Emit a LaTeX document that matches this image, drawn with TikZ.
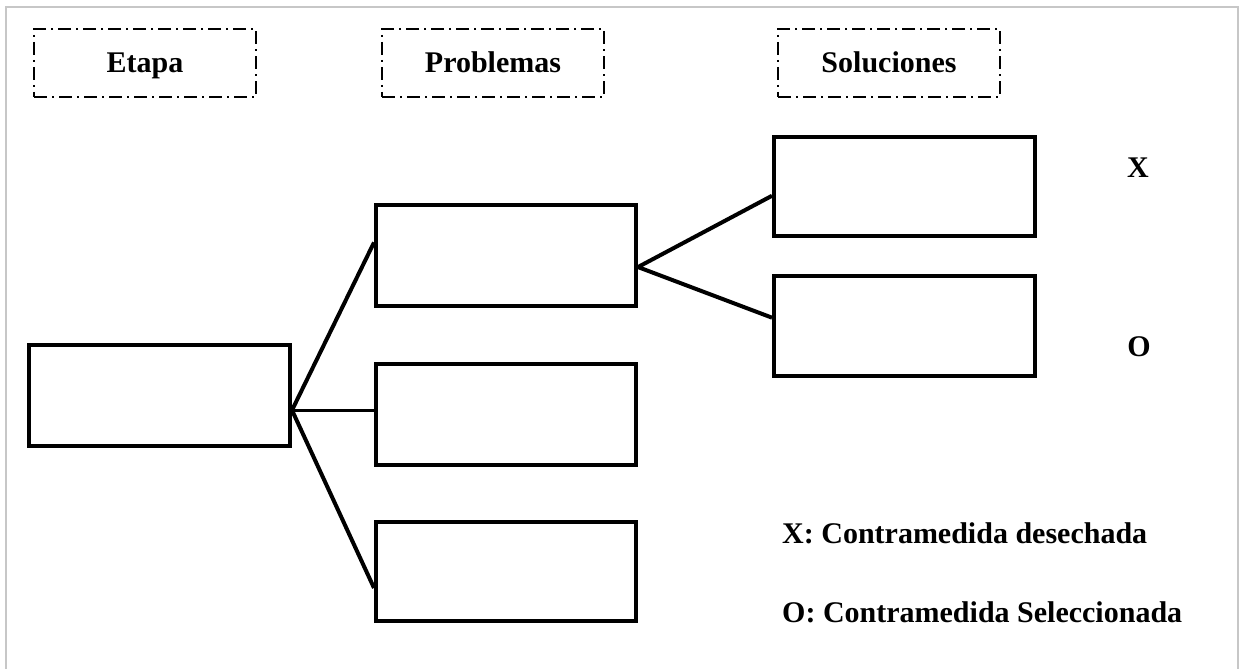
\documentclass[tikz,border=0pt]{standalone}
\usepackage{fontspec}
\setmainfont{Liberation Serif}
\usetikzlibrary{calc}
\begin{document}
\begin{tikzpicture}[x=1pt,y=-1pt,
  stagebox/.style={draw,line width=4pt,rectangle,inner sep=0pt},
  headbox/.style={draw,line width=1.8pt,rectangle,inner sep=0pt,
    minimum width=222pt,minimum height=68pt,
    text height=22pt,text depth=2pt,
    dash pattern=on 13pt off 5pt on 2pt off 5pt,
    font=\fontsize{30}{32}\selectfont\bfseries},
  link/.style={line width=4pt},
  thinlink/.style={line width=2.8pt},
  mark text/.style={font=\fontsize{30}{32}\selectfont\bfseries},
  frame/.style={draw=black!22,line width=2pt}]
  \useasboundingbox (0,0) rectangle (1243,669);
  % outer frame, open at the bottom
  \draw[frame] (6,669) -- (6,7) -- (1238,7) -- (1238,669);

  % column headings
  \node[headbox] (hEtapa) at (145,63) {Etapa};
  \node[headbox] (hProb) at (493,63) {Problemas};
  \node[headbox] (hSol) at (889,63) {Soluciones};

  % stage
  \node[stagebox,minimum width=261pt,minimum height=101pt] (etapa) at (159.5,395.5) {};
  % problems
  \node[stagebox,minimum width=260pt,minimum height=101pt] (p1) at (506,255.5) {};
  \node[stagebox,minimum width=260pt,minimum height=101pt] (p2) at (506,414.5) {};
  \node[stagebox,minimum width=260pt,minimum height=99pt] (p3) at (506,571.5) {};
  % solutions
  \node[stagebox,minimum width=261pt,minimum height=99pt] (s1) at (904.5,186.5) {};
  \node[stagebox,minimum width=261pt,minimum height=100pt] (s2) at (904.5,326) {};

  % attachment points on box sides
  \coordinate (eOut) at ($(etapa.north east)!0.64!(etapa.south east)$);
  \coordinate (p1In) at ($(p1.north west)!0.376!(p1.south west)$);
  \coordinate (p3In) at ($(p3.north west)!0.66!(p3.south west)$);
  \coordinate (p1Out) at ($(p1.north east)!0.61!(p1.south east)$);
  \coordinate (s1In) at ($(s1.north west)!0.59!(s1.south west)$);
  \coordinate (s2In) at ($(s2.north west)!0.42!(s2.south west)$);

  % connectors
  \draw[link] (eOut) -- (p1In);
  \draw[thinlink] (eOut) -- (eOut -| p2.west);
  \draw[link] (eOut) -- (p3In);
  \draw[link] (p1Out) -- (s1In);
  \draw[link] (p1Out) -- (s2In);

  % marks beside the solutions
  \node[mark text] (mX) at (1138,168) {X};
  \node[mark text] (mO) at (1139,347) {O};

  % legend
  \node[mark text,anchor=base west,inner sep=0pt] (legX) at (782,543) {X: Contramedida desechada};
  \node[mark text,anchor=base west,inner sep=0pt] (legO) at (782,622) {O: Contramedida Seleccionada};
\end{tikzpicture}
\end{document}
